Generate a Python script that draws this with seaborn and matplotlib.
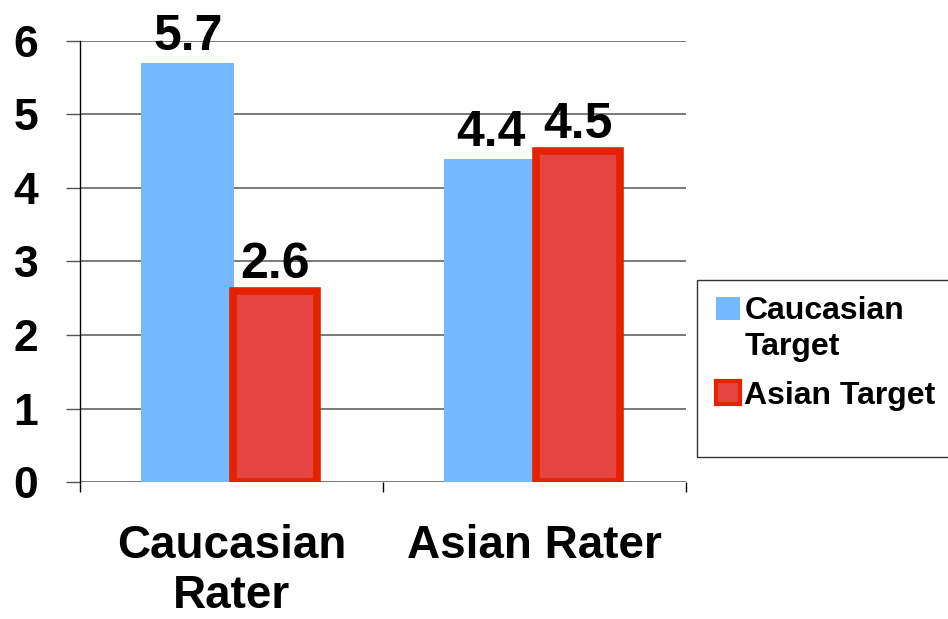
import matplotlib
matplotlib.use('Agg')
import matplotlib.pyplot as plt
from matplotlib.patches import Rectangle
import pandas as pd
import seaborn as sns

# chart data
raters = ['Caucasian\nRater', 'Asian Rater']
targets = ['Caucasian\nTarget', 'Asian Target']
caucasian_target = [5.7, 4.4]
asian_target = [2.6, 4.5]

df = pd.DataFrame({
    'rater': raters * 2,
    'target': [targets[0]] * 2 + [targets[1]] * 2,
    'score': caucasian_target + asian_target,
})

sns.set_theme(style='white', rc={'text.color': 'black', 'axes.labelcolor': 'black',
                                 'xtick.color': 'black', 'ytick.color': 'black'})
plt.rcParams['font.family'] = ['Liberation Sans', 'DejaVu Sans']
plt.rcParams['font.weight'] = 'bold'

fig = plt.figure(figsize=(9.48, 6.19), dpi=100)
ax = fig.add_axes([0.0844, 0.2213, 0.6392, 0.7125])

blue = '#74b8ff'
red_fill = '#e54540'
red_edge = '#e52200'

sns.barplot(data=df, x='rater', y='score', hue='target', order=raters,
            hue_order=targets, palette=[blue, red_fill], width=0.575,
            gap=0, saturation=1, ax=ax, legend=True)

# bars overlap a little in the original: widen them around their centres
def set_width(bar, w):
    c = bar.get_x() + bar.get_width() / 2
    bar.set_width(w)
    bar.set_x(c - w / 2)

for bar in ax.containers[0]:
    set_width(bar, 0.307)
    bar.set_linewidth(0)
for bar in ax.containers[1]:
    set_width(bar, 0.28)
    bar.set_edgecolor(red_edge)
    bar.set_linewidth(5.5)
    bar.set_zorder(3)

for cont in ax.containers:
    ax.bar_label(cont, fmt='%.1f', fontsize=36, fontweight='bold', padding=2,
                 color='black')

ax.set_ylim(0, 6)
ax.set_xlim(-0.5, 1.5)
ax.set_yticks(range(7))
ax.yaxis.grid(True, color='#555555', linewidth=1.1)
ax.set_axisbelow(True)
ax.set_xlabel('')
ax.set_ylabel('')

for side in ['top', 'right', 'bottom']:
    ax.spines[side].set_visible(False)
ax.spines['left'].set_color('black')
ax.spines['left'].set_linewidth(1.0)

ax.tick_params(axis='y', which='major', length=10, width=1.0, color='#555555',
               direction='out', labelsize=32, pad=20, left=True)
ax.tick_params(axis='x', which='major', length=0, labelsize=33, pad=30)
ax.set_xticks([-0.5, 0.5, 1.5], minor=True)
ax.tick_params(axis='x', which='minor', length=7, width=1.0, color='black',
               direction='out', bottom=True)
for lbl in ax.get_yticklabels() + ax.get_xticklabels():
    lbl.set_fontweight('bold')
    lbl.set_color('black')

handles, labels = ax.get_legend_handles_labels()
ax.get_legend().remove()
handles[0].set_linewidth(0)
handles[1].set_edgecolor(red_edge)
handles[1].set_linewidth(3)

# legend frame runs off the right edge of the figure
fig.patches.append(Rectangle((697 / 948, 1 - 457 / 619), 0.3, (457 - 280) / 619,
                             transform=fig.transFigure, facecolor='white',
                             edgecolor='#333333', linewidth=1.0, zorder=0))
leg = fig.legend(handles, labels, loc='upper left', bbox_to_anchor=(0.755, 0.522),
                 frameon=False, prop={'size': 23, 'weight': 'bold'},
                 handlelength=0.75, handleheight=0.75, handletextpad=0.15,
                 borderpad=0, labelspacing=0.6, borderaxespad=0)
for t in leg.get_texts():
    t.set_color('black')
    t.set_linespacing(1.25)
# first swatch sits next to the first line of its two-line label
first = leg.legend_handles[0]
first.set_y(first.get_y() + 15)

fig.savefig('out.png', dpi=100)
